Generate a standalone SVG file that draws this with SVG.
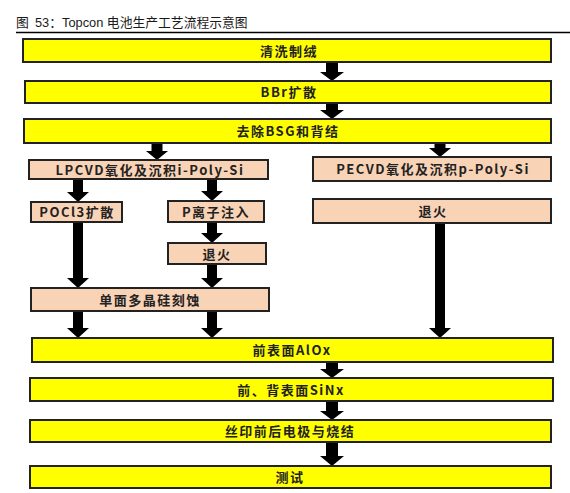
<svg xmlns="http://www.w3.org/2000/svg" width="570" height="493" viewBox="0 0 570 493">
<style>
.title{font-family:"Liberation Sans","Noto Sans CJK SC",sans-serif;font-size:12.8px;fill:#1a1a1a}
.y{fill:#ffff00;stroke:#222;stroke-width:2}
.p{fill:#f9d3b6;stroke:#222;stroke-width:2}
.t{font-family:"Noto Sans CJK SC","Liberation Sans",sans-serif;font-size:13px;font-weight:bold;fill:#222;text-anchor:middle;letter-spacing:1.5px}
.a{fill:#000}
</style>
<rect width="570" height="493" fill="#fff"/>
<text class="title" x="16" y="27">图<tspan x="35">53：Topcon 电池生产工艺流程示意图</tspan></text>
<line x1="16" y1="32.5" x2="570" y2="32.5" stroke="#000" stroke-width="1.5"/>
<g id="connectors">
<polygon class="a" points="326,62 338,62 338,72 344,72 332,81 320,72 326,72"/>
<polygon class="a" points="326,103 338,103 338,110 344,110 332,119 320,110 326,110"/>
<polygon class="a" points="151.5,143 162.5,143 162.5,151 168,151 157,160 146,151 151.5,151"/>
<polygon class="a" points="434.5,143 445.5,143 445.5,148 451,148 440,157 429,148 434.5,148"/>
<polygon class="a" points="73,179 83,179 83,192 89,192 78,202 67,192 73,192"/>
<polygon class="a" points="207,179 217,179 217,191 223,191 212,201 201,191 207,191"/>
<polygon class="a" points="207,222 217,222 217,233 223,233 212,243 201,233 207,233"/>
<polygon class="a" points="73,222 83,222 83,278 89,278 78,288 67,278 73,278"/>
<polygon class="a" points="207,264 217,264 217,278 223,278 212,288 201,278 207,278"/>
<polygon class="a" points="435,223 445,223 445,328 451,328 440,338 429,328 435,328"/>
<polygon class="a" points="73,311 83,311 83,328 89,328 78,338 67,328 73,328"/>
<polygon class="a" points="207,311 217,311 217,328 223,328 212,338 201,328 207,328"/>
<polygon class="a" points="326,362 338,362 338,369 344,369 332,378 320,369 326,369"/>
<polygon class="a" points="326,401 338,401 338,411 344,411 332,420 320,411 326,411"/>
<polygon class="a" points="326,442 338,442 338,456 344,456 332,466 320,456 326,456"/>
</g>
<g id="n1"><rect class="y" x="23" y="39" width="528" height="23"/><text class="t" x="289" y="55.5">清洗制绒</text></g>
<g id="n2"><rect class="y" x="25" y="81" width="526" height="22"/><text class="t" x="289" y="97">BBr扩散</text></g>
<g id="n3"><rect class="y" x="24" y="119" width="527" height="24"/><text class="t" x="288" y="136">去除BSG和背结</text></g>
<g id="n4"><rect class="p" x="29" y="160" width="239" height="19"/><text class="t" x="150" y="174.5">LPCVD氧化及沉积i-Poly-Si</text></g>
<g id="n5"><rect class="p" x="313" y="157" width="238" height="24"/><text class="t" x="433" y="174">PECVD氧化及沉积p-Poly-Si</text></g>
<g id="n6"><rect class="p" x="31" y="202" width="91" height="20"/><text class="t" x="77" y="217">POCl3扩散</text></g>
<g id="n7"><rect class="p" x="168" y="201" width="96" height="21"/><text class="t" x="216" y="216.5">P离子注入</text></g>
<g id="n8"><rect class="p" x="168" y="243" width="98" height="21"/><text class="t" x="217" y="258.5">退火</text></g>
<g id="n9"><rect class="p" x="313" y="199" width="238" height="24"/><text class="t" x="433" y="216">退火</text></g>
<g id="n10"><rect class="p" x="31" y="288" width="238" height="23"/><text class="t" x="150" y="304.5">单面多晶硅刻蚀</text></g>
<g id="n11"><rect class="y" x="32" y="338" width="521" height="24"/><text class="t" x="292" y="355">前表面AlOx</text></g>
<g id="n12"><rect class="y" x="30" y="378" width="523" height="23"/><text class="t" x="291" y="394.5">前、背表面SiNx</text></g>
<g id="n13"><rect class="y" x="30" y="420" width="521" height="22"/><text class="t" x="290" y="436">丝印前后电极与烧结</text></g>
<g id="n14"><rect class="y" x="30" y="466" width="521" height="22"/><text class="t" x="290" y="482">测试</text></g>
</svg>
